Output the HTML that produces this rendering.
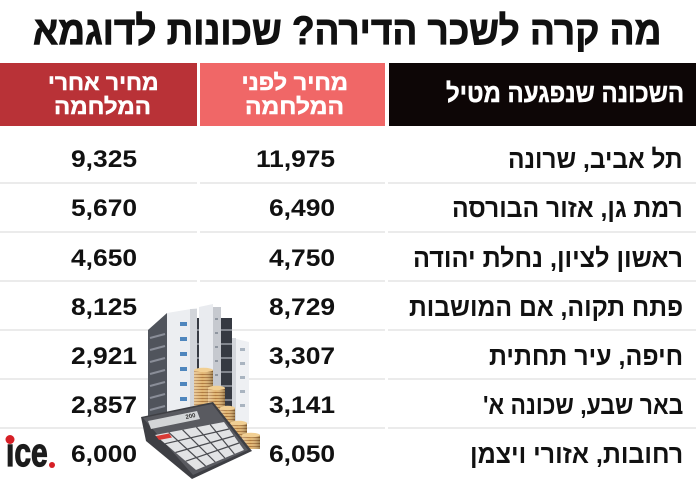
<!DOCTYPE html>
<html lang="he">
<head>
<meta charset="utf-8">
<style>
html,body{margin:0;padding:0;}
body{width:696px;height:479px;background:#fff;position:relative;overflow:hidden;font-family:"Liberation Sans","DejaVu Sans",sans-serif;font-weight:bold;}
.a{position:absolute;white-space:nowrap;}
.a span{display:inline-block;}
.r span{transform-origin:100% 50%;}
.l span{transform-origin:0 50%;}
.c{text-align:center;}
.c span{transform-origin:50% 50%;}
.blk{position:absolute;}
.sep{position:absolute;height:2px;background:#ebebeb;}
.rowt{right:13px;font-size:26px;line-height:26px;color:#111;}
.n1{right:559px;font-size:24px;line-height:24px;color:#111;}
.n2{right:361px;font-size:24px;line-height:24px;color:#111;}
.hw{color:#fff;font-size:22px;line-height:22px;width:200px;}
.hw span{-webkit-text-stroke:0.5px #fff;}
</style>
</head>
<body>

<!-- Title -->
<div class="a r" dir="rtl" style="right:35px;top:11px;font-size:40px;line-height:40px;color:#111;"><span id="t0" style="-webkit-text-stroke:0.9px #111;transform:scaleX(0.85);">מה קרה לשכר הדירה? שכונות לדוגמא</span></div>

<!-- Header blocks -->
<div class="blk" style="left:0;top:63px;width:197px;height:63px;background:#b93237;"></div>
<div class="blk" style="left:200px;top:63px;width:185px;height:63px;background:#f06767;"></div>
<div class="blk" style="left:389px;top:63px;width:307px;height:63px;background:#0d0606;"></div>

<div class="a r" dir="rtl" style="right:12px;top:80px;font-size:26px;line-height:26px;color:#fff;"><span id="h0" style="-webkit-text-stroke:0.5px #fff;">השכונה שנפגעה מטיל</span></div>

<div class="a c hw" dir="rtl" style="left:3px;top:72px;"><span id="h1">מחיר אחרי</span></div>
<div class="a c hw" dir="rtl" style="left:3px;top:96px;"><span id="h2">המלחמה</span></div>
<div class="a c hw" dir="rtl" style="left:195px;top:72px;"><span id="h3">מחיר לפני</span></div>
<div class="a c hw" dir="rtl" style="left:195px;top:96px;"><span id="h4">המלחמה</span></div>

<!-- Separators -->
<div class="sep" style="top:182px;left:0;width:197px;"></div><div class="sep" style="top:182px;left:200px;width:185px;"></div><div class="sep" style="top:182px;left:388px;width:308px;"></div>
<div class="sep" style="top:231px;left:0;width:197px;"></div><div class="sep" style="top:231px;left:200px;width:185px;"></div><div class="sep" style="top:231px;left:388px;width:308px;"></div>
<div class="sep" style="top:280px;left:0;width:197px;"></div><div class="sep" style="top:280px;left:200px;width:185px;"></div><div class="sep" style="top:280px;left:388px;width:308px;"></div>
<div class="sep" style="top:329px;left:0;width:197px;"></div><div class="sep" style="top:329px;left:200px;width:185px;"></div><div class="sep" style="top:329px;left:388px;width:308px;"></div>
<div class="sep" style="top:378px;left:0;width:197px;"></div><div class="sep" style="top:378px;left:200px;width:185px;"></div><div class="sep" style="top:378px;left:388px;width:308px;"></div>
<div class="sep" style="top:427px;left:0;width:197px;"></div><div class="sep" style="top:427px;left:200px;width:185px;"></div><div class="sep" style="top:427px;left:388px;width:308px;"></div>

<!-- Row labels -->
<div class="a r rowt" dir="rtl" style="top:146px;"><span id="r1">תל אביב, שרונה</span></div>
<div class="a r rowt" dir="rtl" style="top:195px;"><span id="r2">רמת גן, אזור הבורסה</span></div>
<div class="a r rowt" dir="rtl" style="top:245px;"><span id="r3">ראשון לציון, נחלת יהודה</span></div>
<div class="a r rowt" dir="rtl" style="top:294px;"><span id="r4">פתח תקוה, אם המושבות</span></div>
<div class="a r rowt" dir="rtl" style="top:343px;"><span id="r5">חיפה, עיר תחתית</span></div>
<div class="a r rowt" dir="rtl" style="top:392px;"><span id="r6">באר שבע, שכונה א'</span></div>
<div class="a r rowt" dir="rtl" style="top:441px;"><span id="r7">רחובות, אזורי ויצמן</span></div>

<!-- Before war -->
<div class="a r n2" dir="ltr" style="top:148px;"><span id="b1">11,975</span></div>
<div class="a r n2" dir="ltr" style="top:197px;"><span id="b2">6,490</span></div>
<div class="a r n2" dir="ltr" style="top:247px;"><span id="b3">4,750</span></div>
<div class="a r n2" dir="ltr" style="top:296px;"><span id="b4">8,729</span></div>
<div class="a r n2" dir="ltr" style="top:345px;"><span id="b5">3,307</span></div>
<div class="a r n2" dir="ltr" style="top:394px;"><span id="b6">3,141</span></div>
<div class="a r n2" dir="ltr" style="top:443px;"><span id="b7">6,050</span></div>

<!-- After war -->
<div class="a r n1" dir="ltr" style="top:148px;"><span id="a1">9,325</span></div>
<div class="a r n1" dir="ltr" style="top:197px;"><span id="a2">5,670</span></div>
<div class="a r n1" dir="ltr" style="top:247px;"><span id="a3">4,650</span></div>
<div class="a r n1" dir="ltr" style="top:296px;"><span id="a4">8,125</span></div>
<div class="a r n1" dir="ltr" style="top:345px;"><span id="a5">2,921</span></div>
<div class="a r n1" dir="ltr" style="top:394px;"><span id="a6">2,857</span></div>
<div class="a r n1" dir="ltr" style="top:443px;"><span id="a7">6,000</span></div>

<!-- Illustration -->
<svg class="a" style="left:0;top:0;" width="696" height="479" viewBox="0 0 696 479">
<defs>
<pattern id="cp" width="6" height="3" patternUnits="userSpaceOnUse"><rect width="6" height="3" fill="#e2b673"/><rect y="2.1" width="6" height="0.9" fill="#a97338"/></pattern>
<linearGradient id="cg" x1="0" x2="1" y1="0" y2="0"><stop offset="0" stop-color="#fff" stop-opacity="0.3"/><stop offset="0.45" stop-color="#fff" stop-opacity="0"/><stop offset="1" stop-color="#000" stop-opacity="0.3"/></linearGradient>
</defs>
<!-- building left wing -->
<polygon points="148,330 167,313 167,416 148,420" fill="#50545c"/>
<g stroke="#8a8e98" stroke-width="2">
<line x1="150" y1="338" x2="165" y2="334"/><line x1="150" y1="350" x2="165" y2="346"/><line x1="150" y1="362" x2="165" y2="358"/><line x1="150" y1="374" x2="165" y2="370"/><line x1="150" y1="386" x2="165" y2="382"/><line x1="150" y1="398" x2="165" y2="394"/><line x1="150" y1="410" x2="165" y2="406"/>
</g>
<polygon points="167,313 197,308 197,418 167,416" fill="#eceef1"/>
<rect x="190" y="309" width="7" height="109" fill="#d2d5da"/>
<g fill="#4f86bd">
<rect x="180" y="322" width="7" height="4"/><rect x="180" y="337" width="7" height="4"/><rect x="180" y="352" width="7" height="4"/><rect x="180" y="367" width="7" height="4"/><rect x="180" y="382" width="7" height="4"/><rect x="180" y="397" width="7" height="4"/>
</g>
<!-- core -->
<rect x="197" y="318" width="35" height="106" fill="#363a42"/>
<g stroke="#9a9ea6" stroke-width="1.5">
<line x1="197" y1="330" x2="232" y2="330"/><line x1="197" y1="344" x2="232" y2="344"/><line x1="197" y1="358" x2="232" y2="358"/><line x1="197" y1="372" x2="232" y2="372"/><line x1="197" y1="386" x2="232" y2="386"/><line x1="197" y1="400" x2="232" y2="400"/><line x1="197" y1="414" x2="232" y2="414"/>
</g>
<polygon points="199,307 213,304 213,424 199,424" fill="#e9ebef"/>
<rect x="213" y="307" width="8" height="117" fill="#c6c9cf"/>
<g fill="#8f96a0">
<rect x="215" y="318" width="3" height="2"/><rect x="215" y="332" width="3" height="2"/><rect x="215" y="346" width="3" height="2"/><rect x="215" y="360" width="3" height="2"/><rect x="215" y="374" width="3" height="2"/><rect x="215" y="388" width="3" height="2"/>
</g>
<polygon points="232,338 249,342 249,424 232,424" fill="#eef0f3"/>
<rect x="232" y="338" width="4" height="86" fill="#d4d7dc"/>
<g fill="#a9b4c0">
<rect x="240" y="348" width="5" height="3"/><rect x="240" y="362" width="5" height="3"/><rect x="240" y="376" width="5" height="3"/><rect x="240" y="390" width="5" height="3"/><rect x="240" y="404" width="5" height="3"/>
</g>
<!-- coins -->
<rect x="194" y="370" width="19" height="54" fill="url(#cp)"/><rect x="194" y="370" width="19" height="54" fill="url(#cg)"/><ellipse cx="203.5" cy="370" rx="9.5" ry="2.2" fill="#f1cf93"/>
<rect x="208" y="388" width="17" height="42" fill="url(#cp)"/><rect x="208" y="388" width="17" height="42" fill="url(#cg)"/><ellipse cx="216.5" cy="388" rx="8.5" ry="2.2" fill="#f1cf93"/>
<rect x="220" y="408" width="15" height="28" fill="url(#cp)"/><rect x="220" y="408" width="15" height="28" fill="url(#cg)"/><ellipse cx="227.5" cy="408" rx="7.5" ry="2.2" fill="#f1cf93"/>
<rect x="230" y="423" width="17" height="20" fill="url(#cp)"/><rect x="230" y="423" width="17" height="20" fill="url(#cg)"/><ellipse cx="238.5" cy="423" rx="8.5" ry="2.2" fill="#f1cf93"/>
<rect x="242" y="435" width="18" height="14" fill="url(#cp)"/><rect x="242" y="435" width="18" height="14" fill="url(#cg)"/><ellipse cx="251" cy="435" rx="9" ry="2.2" fill="#f1cf93"/>
<!-- calculator -->
<polygon points="141,417 213,402 252,451 192,479 146,441" fill="#3e3f44"/>
<polygon points="143,418 212,404 248,450 193,475" fill="#595a60"/>
<polygon points="148,421 197,411 200,419 151,429" fill="#d3d5d7"/>
<text x="186" y="419" font-size="6" fill="#333" font-family="Liberation Sans, sans-serif" transform="rotate(-12 186 419)">200</text>
<polygon points="155,435 224,422 244,450 196,470" fill="#e2e3e5"/>
<g stroke="#4a4b50" stroke-width="1.2">
<line x1="165.2" y1="443.7" x2="229" y2="429"/><line x1="175.5" y1="452.5" x2="234" y2="436"/><line x1="185.7" y1="461.2" x2="239" y2="443"/>
<line x1="168.8" y1="432.4" x2="205.6" y2="466"/><line x1="182.6" y1="429.8" x2="215.2" y2="462"/><line x1="196.4" y1="427.2" x2="224.8" y2="458"/><line x1="210.2" y1="424.6" x2="234.4" y2="454"/>
</g>
<polygon points="156,436 169,433.5 172,437.5 159,440" fill="#d83a36"/>
</svg>

<!-- logo -->
<div class="a l" dir="ltr" style="left:6px;top:433px;font-size:40px;line-height:40px;color:#1c1c1c;"><span id="lg" style="-webkit-text-stroke:1.2px #1c1c1c;transform:scaleX(0.8);">ice</span></div>
<svg class="a" style="left:0;top:0;" width="696" height="479" viewBox="0 0 696 479">
<circle cx="10" cy="439.5" r="4.5" fill="#d61f26"/>
<circle cx="52" cy="465" r="3" fill="#d61f26"/>
</svg>

<script>
(function(){
var L=[["t0",628],["h0",238],["h1",111],["h2",97],["h3",106],["h4",99],
["r1",175],["r2",231],["r3",270],["r4",274],["r5",194],["r6",200],["r7",213],
["b1",79],["b2",66],["b3",66],["b4",66],["b5",66],["b6",66],["b7",66],
["a1",66],["a2",66],["a3",66],["a4",66],["a5",66],["a6",66],["a7",66],["lg",42]];
for(var i=0;i<L.length;i++){
var e=document.getElementById(L[i][0]);if(!e)continue;
var w=e.offsetWidth;if(w>0){e.style.transform="scaleX("+(L[i][1]/w)+")";}
}
})();
</script>
</body>
</html>
